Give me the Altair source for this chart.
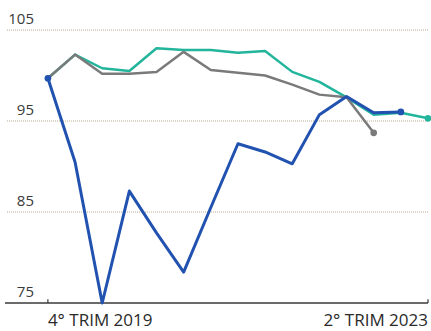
import altair as alt
import pandas as pd

# Quarters from 4Q2019 to 2Q2023 (index 0..14)
quarters = ["4T2019", "1T2020", "2T2020", "3T2020", "4T2020",
            "1T2021", "2T2021", "3T2021", "4T2021",
            "1T2022", "2T2022", "3T2022", "4T2022",
            "1T2023", "2T2023"]
serie_blu = [99.7, 90.5, 75.0, 87.3, 82.7, 78.4, 85.5, 92.5, 91.6, 90.3, 95.7, 97.7, 95.9, 96.0, None]
serie_verde = [99.7, 102.3, 100.8, 100.5, 103.0, 102.8, 102.8, 102.5, 102.7, 100.4, 99.3, 97.6, 95.7, 95.9, 95.3]
serie_grigia = [99.7, 102.3, 100.2, 100.2, 100.4, 102.6, 100.6, 100.3, 100.0, 99.0, 97.9, 97.6, 93.7, None, None]

y_ticks = [105, 95, 85, 75]
x_tick_pos = [0, 14]
x_tick_labels = ["4° TRIM 2019", "2° TRIM 2023"]

colors = {"verde": "#22b59c", "grigia": "#7a7a7a", "blu": "#2152b0"}
widths = {"verde": 2.5, "grigia": 2.5, "blu": 3}


def series_df(name, vals):
    return pd.DataFrame([{"i": i, "q": quarters[i], "v": v}
                         for i, v in enumerate(vals) if v is not None])


xs = alt.Scale(domain=[-1.58, 14], nice=False, zero=False)
ys = alt.Scale(domain=[75, 108.3], nice=False, zero=False)

layers = []

# grid lines
grid_df = pd.DataFrame({"v": [t for t in y_ticks if t != 75]})
layers.append(alt.Chart(grid_df).mark_rule(color="#b8ad90", strokeWidth=1, strokeDash=[1, 1]).encode(
    y=alt.Y("v:Q", scale=ys, axis=None), x=alt.value(2), x2=alt.value(423)))

# base axis line
base_df = pd.DataFrame({"v": [75]})
layers.append(alt.Chart(base_df).mark_rule(color="#3a3a3a", strokeWidth=1.5).encode(
    y=alt.Y("v:Q", scale=ys, axis=None), x=alt.value(0), x2=alt.value(423)))

# small ticks
tick_df = pd.DataFrame({"i": x_tick_pos, "y0": [75] * 2, "y1": [75.4] * 2})
layers.append(alt.Chart(tick_df).mark_rule(color="#3a3a3a", strokeWidth=1.2).encode(
    x=alt.X("i:Q", scale=xs, axis=None), y=alt.Y("y0:Q", scale=ys, axis=None), y2="y1:Q"))

# lines
for name, vals in [("verde", serie_verde), ("grigia", serie_grigia), ("blu", serie_blu)]:
    d = series_df(name, vals)
    layers.append(alt.Chart(d).mark_line(color=colors[name], strokeWidth=widths[name],
                                         strokeJoin="round", strokeCap="round").encode(
        x=alt.X("i:Q", scale=xs, axis=None), y=alt.Y("v:Q", scale=ys, axis=None)))

# dots: end of each series + start of blue
dots = []
for name, vals in [("verde", serie_verde), ("grigia", serie_grigia), ("blu", serie_blu)]:
    d = series_df(name, vals)
    last = d.iloc[-1]
    dots.append({"i": last["i"], "v": last["v"], "s": name})
d0 = series_df("blu", serie_blu).iloc[0]
dots.append({"i": d0["i"], "v": d0["v"], "s": "blu"})
dots_df = pd.DataFrame(dots)
layers.append(alt.Chart(dots_df).mark_circle(size=45, opacity=1).encode(
    x=alt.X("i:Q", scale=xs, axis=None), y=alt.Y("v:Q", scale=ys, axis=None),
    color=alt.Color("s:N", scale=alt.Scale(domain=list(colors.keys()), range=list(colors.values())), legend=None)))

# y labels
ylab_df = pd.DataFrame({"v": y_ticks, "t": [str(t) for t in y_ticks]})
layers.append(alt.Chart(ylab_df).mark_text(align="right", baseline="bottom", dy=-3, fontSize=15,
                                           font="Open Sans", color="#3a3a3a").encode(
    y=alt.Y("v:Q", scale=ys, axis=None), x=alt.value(29), text="t:N"))

# x labels
xl1 = pd.DataFrame({"i": [x_tick_pos[0]], "t": [x_tick_labels[0]]})
xl2 = pd.DataFrame({"i": [x_tick_pos[1]], "t": [x_tick_labels[1]]})
layers.append(alt.Chart(xl1).mark_text(align="left", baseline="alphabetic", fontSize=17,
                                       font="Open Sans", color="#2a2a2a").encode(
    x=alt.X("i:Q", scale=xs, axis=None), y=alt.value(326), text="t:N"))
layers.append(alt.Chart(xl2).mark_text(align="right", baseline="alphabetic", fontSize=17,
                                       font="Open Sans", color="#2a2a2a").encode(
    x=alt.X("i:Q", scale=xs, axis=None), y=alt.value(326), text="t:N"))

chart = alt.layer(*layers).properties(
    width=423, height=303,
    autosize=alt.AutoSizeParams(type="none"),
    padding={"left": 5, "top": 0, "right": 3, "bottom": 28},
    background="white",
).configure_view(stroke=None)

chart.save("out.html", embed_options={"renderer": "svg", "actions": False})
